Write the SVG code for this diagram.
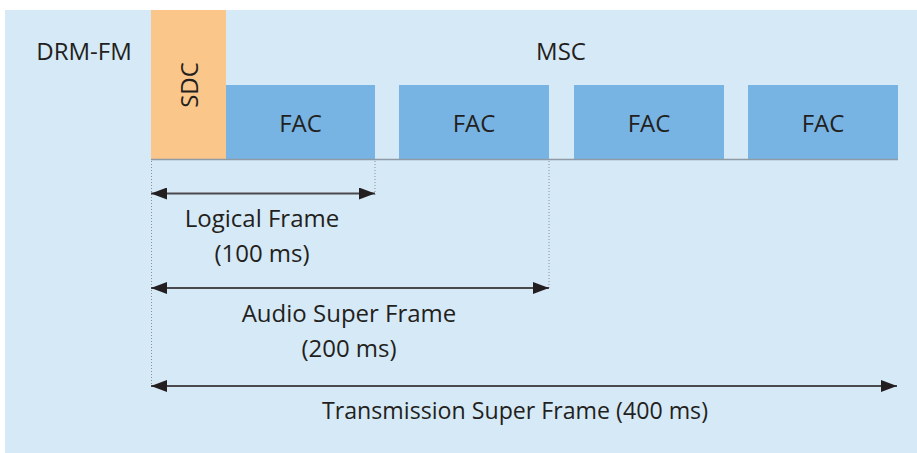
<svg xmlns="http://www.w3.org/2000/svg" width="917" height="453" viewBox="0 0 917 453">
<defs>
<style>
text{font-family:"Open Sans","Noto Sans",sans-serif;font-size:24px;fill:#231f20;}
.c{text-anchor:middle;}
.fac{fill:#77b4e3;}
.sdc{fill:#fbc68a;}
.dot{stroke:#8f8f8f;stroke-width:1;stroke-dasharray:1 2;fill:none;}
.arr{stroke:#4a4a4c;stroke-width:2.2;fill:none;marker-start:url(#ah);marker-end:url(#ah);}
</style>
<marker id="ah" markerUnits="userSpaceOnUse" viewBox="0 0 16 12" markerWidth="16" markerHeight="12" refX="16" refY="6" orient="auto-start-reverse">
<path d="M0,0 L16,6 L0,12 Z" fill="#231f20"/>
</marker>
</defs>
<rect x="5" y="10" width="912" height="443" fill="#d6e9f6"/>
<g id="labels">
<text x="84" y="60" class="c">DRM-FM</text>
<text x="561" y="60" class="c">MSC</text>
</g>
<g id="sdc">
<rect class="sdc" x="151" y="10" width="75" height="149.5"/>
<text class="c" transform="translate(198,85) rotate(-90)">SDC</text>
</g>
<g id="fac1">
<rect class="fac" x="226" y="85" width="149" height="74.5"/>
<text x="300.5" y="132" class="c">FAC</text>
</g>
<g id="fac2">
<rect class="fac" x="399" y="85" width="150" height="74.5"/>
<text x="474" y="132" class="c">FAC</text>
</g>
<g id="fac3">
<rect class="fac" x="574" y="85" width="150" height="74.5"/>
<text x="649" y="132" class="c">FAC</text>
</g>
<g id="fac4">
<rect class="fac" x="748" y="85" width="150" height="74.5"/>
<text x="823" y="132" class="c">FAC</text>
</g>
<g id="connectors">
<line x1="151" y1="159.5" x2="898" y2="159.5" stroke="#8e9ba6" stroke-width="1.5"/>
<line class="dot" x1="151.5" y1="161" x2="151.5" y2="387"/>
<line class="dot" x1="375" y1="161" x2="375" y2="195"/>
<line class="dot" x1="549" y1="161" x2="549" y2="290"/>
<line class="arr" x1="151" y1="193.5" x2="375" y2="193.5"/>
<line class="arr" x1="151" y1="288" x2="549" y2="288"/>
<line class="arr" x1="151" y1="386" x2="897" y2="386"/>
</g>
<g id="dimension-labels">
<text x="262" y="227" class="c">Logical Frame</text>
<text x="262" y="262" class="c">(100 ms)</text>
<text x="349" y="322" class="c">Audio Super Frame</text>
<text x="349" y="357" class="c">(200 ms)</text>
<text x="515" y="419" class="c" textLength="386" lengthAdjust="spacingAndGlyphs">Transmission Super Frame (400 ms)</text>
</g>
</svg>
